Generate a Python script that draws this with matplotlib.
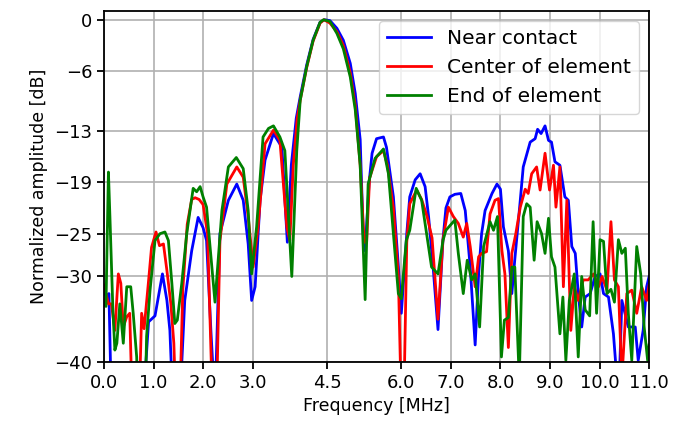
import numpy as np
import matplotlib
matplotlib.use("Agg")
import matplotlib.pyplot as plt

## DATA (values below -40 are clipped by the axis)
# Near contact
f_near = [0.0, 0.05, 0.1, 0.15, 0.3, 0.5, 0.79, 0.9, 1.03, 1.18, 1.27, 1.33, 1.39,
          1.53, 1.63, 1.77, 1.9, 2.0, 2.07, 2.16, 2.24, 2.34, 2.51, 2.68, 2.81, 2.91,
          2.98, 3.05, 3.15, 3.25, 3.42, 3.59, 3.7, 3.78, 3.88, 3.96, 4.09, 4.22, 4.36,
          4.45, 4.56, 4.7, 4.83, 4.97, 5.07, 5.17, 5.23, 5.27, 5.35, 5.41, 5.5, 5.64,
          5.7, 5.84, 5.94, 6.0, 6.11, 6.17, 6.28, 6.38, 6.48, 6.55, 6.64, 6.74, 6.84,
          6.9, 6.98, 7.08, 7.2, 7.29, 7.39, 7.49, 7.56, 7.62, 7.69, 7.83, 7.93, 8.0,
          8.06, 8.16, 8.23, 8.29, 8.4, 8.46, 8.6, 8.7, 8.75, 8.82, 8.9, 8.97, 9.03,
          9.1, 9.2, 9.3, 9.37, 9.44, 9.51, 9.57, 9.64, 9.71, 9.81, 9.91, 10.01, 10.08,
          10.18, 10.28, 10.35, 10.4, 10.45, 10.58, 10.72, 10.78, 10.88, 10.95, 11.0]
db_near = [-31.5, -32.4, -32.0, -45, -45, -45, -45, -35.3, -34.6, -29.7, -32.8, -36.3, -45,
           -45, -32.8, -27.0, -23.1, -24.3, -25.8, -36.6, -45, -25.0, -21.1, -19.2, -21.1, -26.2,
           -32.8, -31.2, -21.1, -16.4, -13.3, -14.9, -26.0, -17.0, -11.5, -9.0, -5.3, -2.3, -0.3,
           0.0, -0.1, -1.0, -2.4, -5.1, -8.6, -14.0, -25.0, -27.0, -19.0, -15.6, -13.9, -13.7,
           -14.9, -20.7, -28.8, -34.3, -25.0, -20.7, -18.7, -18.0, -19.5, -23.0, -28.8, -36.2, -25.7,
           -22.0, -20.7, -20.4, -20.3, -22.3, -28.9, -38.0, -29.7, -25.0, -22.3, -20.3, -19.2, -19.8,
           -24.2, -27.0, -32.0, -28.0, -21.1, -17.2, -14.3, -13.9, -12.8, -13.3, -12.4, -14.1, -14.3,
           -16.6, -17.0, -20.7, -21.1, -26.5, -27.3, -32.0, -35.9, -32.4, -32.0, -30.0, -29.7, -32.0,
           -32.4, -36.7, -42, -42, -32.8, -35.9, -35.9, -39.8, -36.3, -31.2, -30.0]

# Center of element
f_center = [0.0, 0.04, 0.09, 0.15, 0.22, 0.29, 0.34, 0.39, 0.46, 0.52, 0.57, 0.71, 0.76,
            0.81, 0.9, 0.96, 1.05, 1.12, 1.2, 1.27, 1.35, 1.41, 1.45, 1.53, 1.59, 1.68,
            1.77, 1.84, 1.92, 2.0, 2.09, 2.19, 2.27, 2.34, 2.48, 2.58, 2.68, 2.81, 2.91,
            3.01, 3.11, 3.25, 3.42, 3.55, 3.69, 3.75, 3.82, 3.9, 3.96, 4.09, 4.22, 4.36,
            4.44, 4.56, 4.7, 4.83, 4.97, 5.07, 5.17, 5.25, 5.3, 5.36, 5.5, 5.64, 5.72,
            5.84, 5.94, 6.0, 6.05, 6.11, 6.17, 6.31, 6.41, 6.52, 6.62, 6.74, 6.84, 6.95,
            7.05, 7.15, 7.25, 7.32, 7.39, 7.49, 7.56, 7.62, 7.72, 7.79, 7.89, 7.96, 8.03,
            8.09, 8.16, 8.23, 8.31, 8.4, 8.5, 8.56, 8.63, 8.73, 8.8, 8.9, 8.99, 9.07,
            9.12, 9.2, 9.27, 9.34, 9.42, 9.49, 9.57, 9.67, 9.77, 9.88, 9.98, 10.05, 10.15,
            10.23, 10.3, 10.38, 10.45, 10.55, 10.65, 10.75, 10.85, 10.95, 11.0]
db_center = [-31.0, -32.0, -33.2, -33.2, -36.3, -29.7, -30.8, -35.9, -34.7, -34.3, -45, -45, -34.3,
             -36.1, -30.5, -26.6, -24.8, -26.4, -26.2, -29.3, -33.2, -37.8, -45, -45, -31.6, -23.9,
             -21.0, -20.8, -21.0, -21.6, -25.0, -45, -45, -25.8, -19.2, -18.2, -17.2, -18.4, -23.0,
             -28.9, -24.2, -14.5, -12.9, -14.1, -24.2, -25.8, -17.0, -11.5, -9.4, -5.6, -2.5, -0.4,
             0.0, -0.4, -1.4, -3.0, -6.2, -10.0, -17.0, -26.0, -26.0, -18.5, -16.0, -15.3, -17.0,
             -22.0, -30.0, -45, -45, -26.0, -21.5, -19.9, -21.0, -23.0, -25.5, -35.0, -25.7, -21.9,
             -23.0, -23.8, -25.4, -23.8, -26.5, -31.2, -27.7, -27.3, -27.1, -22.7, -21.1, -20.9, -27.0,
             -29.7, -38.3, -27.3, -25.0, -21.9, -19.8, -20.3, -18.0, -17.2, -19.9, -15.6, -19.9, -17.0,
             -21.9, -17.2, -31.2, -21.1, -36.3, -31.2, -32.8, -30.4, -30.4, -29.7, -31.2, -30.0, -31.6,
             -23.6, -30.4, -31.2, -42, -32.0, -31.6, -34.3, -31.2, -32.8, -31.0]

# End of element
f_end = [0.0, 0.04, 0.09, 0.12, 0.18, 0.22, 0.26, 0.32, 0.39, 0.46, 0.54, 0.59, 0.66,
         0.69, 0.83, 0.86, 0.93, 1.03, 1.13, 1.23, 1.3, 1.37, 1.43, 1.48, 1.57, 1.67,
         1.8, 1.87, 1.94, 2.0, 2.07, 2.24, 2.38, 2.51, 2.67, 2.81, 2.91, 2.98, 3.08,
         3.21, 3.32, 3.42, 3.55, 3.65, 3.79, 3.89, 3.96, 4.09, 4.22, 4.36, 4.43, 4.56,
         4.7, 4.83, 4.97, 5.07, 5.17, 5.27, 5.33, 5.47, 5.64, 5.74, 5.84, 5.94, 6.0,
         6.1, 6.17, 6.3, 6.41, 6.51, 6.61, 6.74, 6.84, 6.9, 7.08, 7.15, 7.25, 7.33,
         7.42, 7.49, 7.58, 7.66, 7.79, 7.86, 7.94, 8.02, 8.08, 8.16, 8.23, 8.29, 8.38,
         8.46, 8.53, 8.6, 8.68, 8.74, 8.83, 8.9, 8.97, 9.03, 9.1, 9.2, 9.26, 9.32,
         9.39, 9.49, 9.57, 9.64, 9.71, 9.8, 9.87, 9.94, 10.01, 10.08, 10.15, 10.23, 10.3,
         10.38, 10.45, 10.52, 10.58, 10.65, 10.75, 10.83, 10.9, 10.97, 11.0]
db_end = [-33.0, -33.5, -17.8, -23.0, -33.9, -38.6, -37.8, -33.2, -37.8, -31.2, -31.2, -34.3, -39.4,
          -45, -45, -37.0, -31.6, -25.8, -25.0, -24.8, -25.8, -30.8, -35.5, -35.1, -30.8, -25.0,
          -19.7, -20.1, -19.5, -20.7, -21.9, -33.0, -22.3, -17.2, -16.1, -17.4, -22.3, -29.7, -24.2,
          -13.7, -12.7, -12.4, -13.7, -15.3, -30.0, -15.3, -9.4, -5.5, -2.4, -0.3, 0.0, -0.2,
          -1.6, -3.4, -6.7, -10.5, -17.0, -32.7, -19.2, -16.2, -15.1, -18.0, -25.0, -32.0, -32.6,
          -25.8, -24.6, -19.7, -21.1, -25.0, -28.9, -29.7, -25.8, -24.6, -23.4, -27.3, -32.0, -28.1,
          -30.4, -29.7, -35.9, -26.5, -23.6, -24.6, -23.0, -39.4, -35.1, -34.8, -28.9, -28.9, -42,
          -23.0, -21.5, -21.9, -28.1, -23.6, -25.0, -27.3, -23.2, -27.7, -28.9, -36.7, -32.4, -39.8,
          -32.8, -29.7, -39.4, -30.0, -33.9, -34.6, -23.6, -34.3, -25.7, -25.9, -32.0, -31.5, -33.0,
          -25.7, -27.3, -26.7, -34.3, -39.8, -26.5, -29.7, -35.9, -39.8, -38.0]

x_ticks = [0.0, 1.0, 2.0, 3.0, 4.5, 6.0, 7.0, 8.0, 9.0, 10.0, 11.0]
y_ticks = [0, -6, -13, -19, -25, -30, -40]

## PLOT
plt.rcParams['font.size'] = 12.5

fig = plt.figure(figsize=(6.84, 4.3), dpi=100)
ax = fig.add_axes([0.152, 0.158, 0.797, 0.816])

ax.plot(f_near, db_near, color='blue', lw=2, label='Near contact')
ax.plot(f_center, db_center, color='red', lw=2, label='Center of element')
ax.plot(f_end, db_end, color='green', lw=2, label='End of element')

ax.set_xlim(0, 11)
ax.set_ylim(-40, 1)
ax.set_xticks(x_ticks)
ax.set_xticklabels(['%.1f' % t for t in x_ticks])
ax.set_yticks(y_ticks)
ax.grid(True, color='#b0b0b0', lw=1.2)
ax.set_axisbelow(True)
for s in ax.spines.values():
    s.set_linewidth(1.3)
ax.tick_params(width=1.3, length=5, labelsize=13)

ax.set_xlabel('Frequency [MHz]')
ax.set_ylabel('Normalized amplitude [dB]')
ax.legend(loc='upper right', fontsize=14.5, handlelength=2.2)

fig.savefig('out.png', dpi=100)
